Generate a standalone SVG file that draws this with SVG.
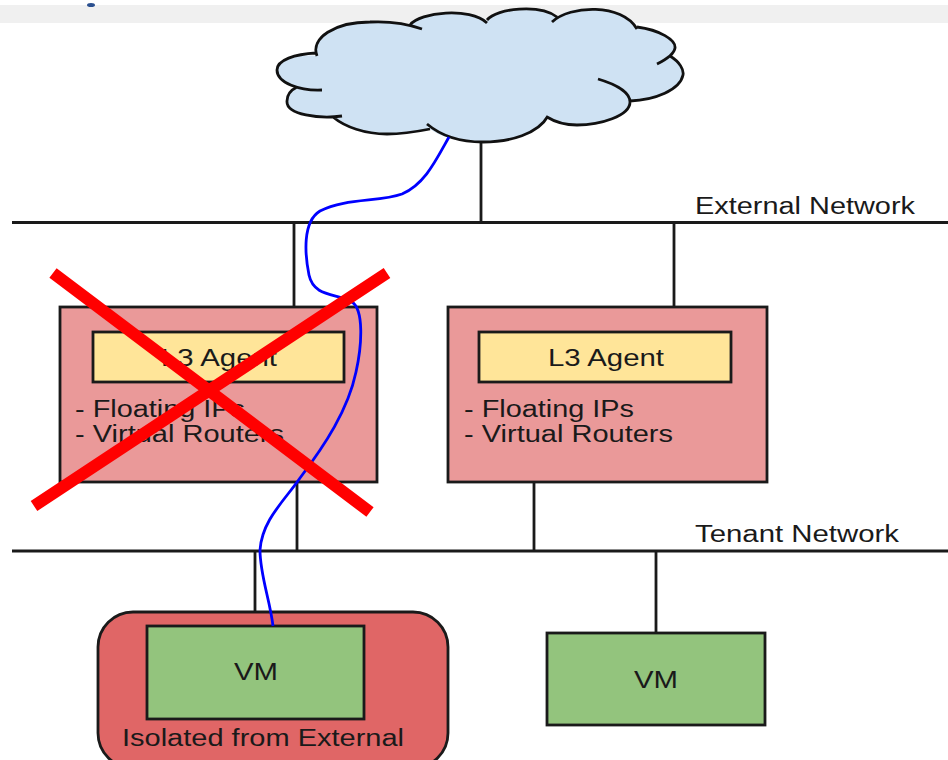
<svg xmlns="http://www.w3.org/2000/svg" width="948" height="760" viewBox="0 0 948 760">
<style>
.ln{stroke:#1a1a1a;stroke-width:2.800;fill:none}
.bx{stroke:#1a1a1a;stroke-width:2.800}
.t{font-family:"Liberation Sans",Arial,sans-serif;font-size:23px;fill:#1a1a1a}
</style>
<rect width="948" height="760" fill="#fff"/>
<rect y="5" width="948" height="18" fill="#f0f0f0"/>
<ellipse cx="91" cy="5" rx="4" ry="2" fill="#2a4f8f"/>
<g id="connectors">
<path class="ln" d="M12 222.500H948M12 551H948M481 142V222M294 222V307M674 222V307M297 482V551M534 482V551M255 551V626M656 551V633"/>
</g>
<g id="cloud">
<path fill="#cfe2f3" d="M317 56C310 38 335 22 370 22C385 21 398 22 410 25C420 12 470 7 487 21C497 8 540 4 557 17C570 5 622 3 637 28C660 30 676 40 675 48C675 51 673 54 670 56C680 62 684 70 683 75C680 90 655 100 630 101C630 116 600 125 577 125C565 125 555 122 547 117C538 134 510 142 483 142C460 142 440 137 430 129C415 132 400 134 387 134C365 134 345 127 333 117C320 119 286 115 287 101C287 95 291 90 297 87C280 83 277 76 277 70C277 60 295 54 317 56Z"/>
<path fill="none" stroke="#111" stroke-width="2.800" d="M317 56C310 38 335 22 370 22C390 21 408 24 422 29M410 25C420 12 470 7 487 23M487 20C497 8 540 4 557 17M552 22C570 5 622 3 637 29M637 27C660 30 676 40 675 48C674 55 665 60 657 64M670 56C680 62 684 70 683 75C680 90 655 100 630 101M598 79C615 84 630 92 630 102C630 116 600 125 577 125C565 125 555 122 547 117M548 116C538 134 510 142 483 142C460 142 440 135 427 124M430 129C415 132 400 134 387 134C365 134 345 127 333 117M342 116C320 119 286 115 287 101C287 95 291 90 297 87M322 90C300 91 277 83 277 70C277 60 295 54 316 53"/>
</g>
<g id="agent-left">
<rect class="bx" x="60" y="307" width="317" height="175" fill="#ea9999"/>
<rect class="bx" x="93" y="332" width="251" height="50" fill="#ffe599"/>
<text class="t" x="161" y="366" textLength="116" lengthAdjust="spacingAndGlyphs">L3 Agent</text>
<text class="t" x="75" y="417" textLength="170" lengthAdjust="spacingAndGlyphs">- Floating IPs</text>
<text class="t" x="75" y="442" textLength="209" lengthAdjust="spacingAndGlyphs">- Virtual Routers</text>
</g>
<g id="agent-right">
<rect class="bx" x="448" y="307" width="319" height="175" fill="#ea9999"/>
<rect class="bx" x="479" y="332" width="252" height="50" fill="#ffe599"/>
<text class="t" x="548" y="366" textLength="116" lengthAdjust="spacingAndGlyphs">L3 Agent</text>
<text class="t" x="464" y="417" textLength="170" lengthAdjust="spacingAndGlyphs">- Floating IPs</text>
<text class="t" x="464" y="442" textLength="209" lengthAdjust="spacingAndGlyphs">- Virtual Routers</text>
</g>
<g id="isolated">
<rect class="bx" x="98" y="612" width="350" height="156" rx="35" fill="#e06666"/>
<text class="t" x="122" y="746" textLength="282" lengthAdjust="spacingAndGlyphs">Isolated from External</text>
</g>
<g id="vm-left">
<rect class="bx" x="147" y="626" width="217" height="93" fill="#93c47d"/>
<text class="t" x="234" y="680" textLength="44" lengthAdjust="spacingAndGlyphs">VM</text>
</g>
<g id="vm-right">
<rect class="bx" x="547" y="633" width="218" height="92" fill="#93c47d"/>
<text class="t" x="634" y="688" textLength="44" lengthAdjust="spacingAndGlyphs">VM</text>
</g>
<g id="labels">
<text class="t" x="695" y="214" textLength="220" lengthAdjust="spacingAndGlyphs">External Network</text>
<text class="t" x="695" y="542" textLength="204" lengthAdjust="spacingAndGlyphs">Tenant Network</text>
</g>
<g id="path-blue">
<path fill="none" stroke="#0000ff" stroke-width="2.800" d="M449 137C436 160 425 184 402 194C380 202 345 198 320 211C302 222 305 255 309 275C314 298 338 293 352 302C364 310 362 345 356 372C348 410 325 445 300 478C285 500 262 520 260 550C260 575 270 600 273 626"/>
</g>
<g id="cross">
<path fill="none" stroke="#ff0000" stroke-width="12" d="M53 273L370 512M387 273L34 506"/>
</g>
</svg>
